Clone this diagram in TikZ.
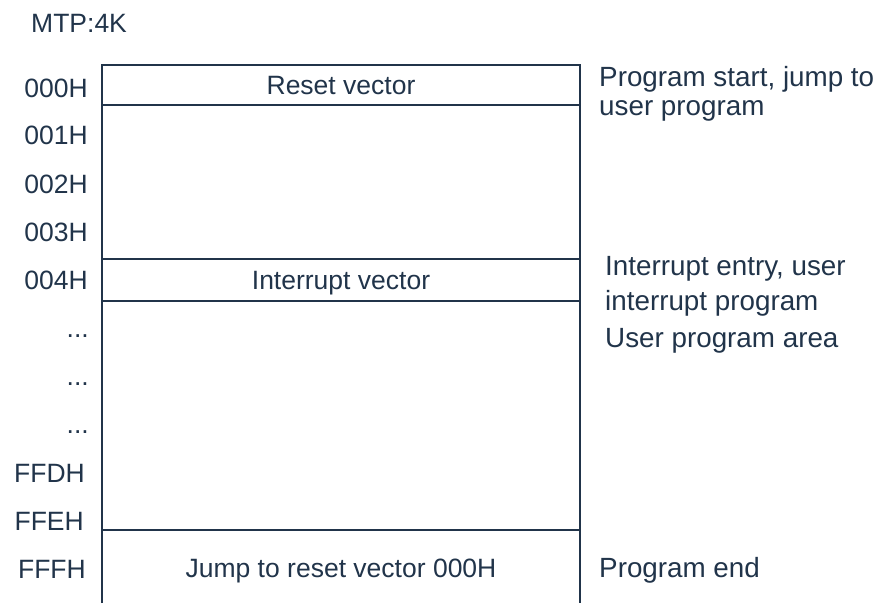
\documentclass[tikz,border=0pt]{standalone}
\usepackage{fontspec}
\setmainfont{Liberation Sans}
\definecolor{ink}{RGB}{33,52,74}
\begin{document}
\begin{tikzpicture}[x=1pt,y=-1pt,
  txt/.style={font=\fontsize{26.5}{30}\selectfont, text=ink, inner sep=0pt},
  addr/.style={txt, anchor=base east},
  note/.style={txt, font=\fontsize{27.8}{30}\selectfont, anchor=base west},
  cell/.style={txt, anchor=base},
  ln/.style={draw=ink, line width=1.6pt}]
\useasboundingbox (0,0) rectangle (880,603);
% memory box
\draw[ln] (102,603) -- (102,65) -- (580,65) -- (580,603);
\draw[ln] (102,105) -- (580,105);
\draw[ln] (102,259) -- (580,259);
\draw[ln] (102,301) -- (580,301);
\draw[ln] (102,530) -- (580,530);
% title
\node[txt, anchor=base west] (title) at (31,32) {MTP:4K};
% addresses
\node[addr] (a0) at (88,97) {000H};
\node[addr] (a1) at (88,144) {001H};
\node[addr] (a2) at (88,193) {002H};
\node[addr] (a3) at (88,241) {003H};
\node[addr] (a4) at (88,289) {004H};
\node[addr] (d1) at (89,337) {...};
\node[addr] (d2) at (89,385) {...};
\node[addr] (d3) at (89,433) {...};
\node[addr] (ffd) at (85,482) {FFDH};
\node[addr] (ffe) at (84,530) {FFEH};
\node[addr] (fff) at (86,578) {FFFH};
% cells
\node[cell] (reset) at (341,94) {Reset vector};
\node[cell] (intv) at (341,289) {Interrupt vector};
\node[cell] (jump) at (341,577) {Jump to reset vector 000H};
% notes
\node[note] (n1) at (599,86) {Program start, jump to};
\node[note] (n2) at (599,115) {user program};
\node[note] (n3) at (605,275) {Interrupt entry, user};
\node[note] (n4) at (605,310) {interrupt program};
\node[note] (n5) at (605,347) {User program area};
\node[note] (n6) at (599,577) {Program end};
\end{tikzpicture}
\end{document}
